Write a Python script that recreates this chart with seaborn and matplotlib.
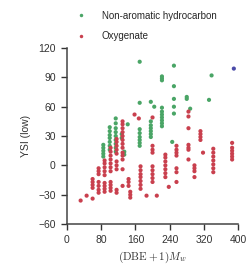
import numpy as np
import pandas as pd
import seaborn as sns
from matplotlib import pyplot as plt

# (DBE + 1) * Mw columns and YSI values
hc_x = [85] * 5 + [100] * 7 + [114] * 9 + [128] * 2 + [134] * 2 + [142] \
    + [170] * 8 + [196] * 7 + [204] + [222] * 10 + [246] + [250] * 5 \
    + [280] * 2 + [288] + [332] + [338]
hc_y = [9, 12, 15, 18, 21,
        16, 20, 24, 28, 31, 35, 39,
        14, 18, 22, 26, 30, 34, 38, 43, 48,
        28, 32,
        11, 14,
        42,
        20, 23, 26, 29, 33, 37, 64, 106,
        29, 32, 35, 38, 41, 45, 65,
        60,
        40, 43, 46, 49, 52, 55, 59, 87, 89, 91,
        24,
        53, 60, 68, 81, 102,
        68, 70,
        58,
        67,
        92]

ox_x = [32, 46] + [60] * 5 + [74] * 7 + [88] * 9 + [102] * 11 + [116] * 10 \
    + [130] * 13 + [144] * 3 + [148] * 3 + [158] + [168] + [172] * 7 + [186] \
    + [200] * 9 + [210] + [230] * 7 + [238] + [256] * 7 + [284] * 7 \
    + [298] * 4 + [312] * 4 + [318] + [342] * 7 + [386] * 6
ox_y = [-36, -31,
        -34, -23, -20, -17, -14,
        -28, -25, -21, -17, -9, -6, -3,
        -27, -24, -21, -18, -10, -6, -2, 2, 5,
        -26, -23, -20, -17, -6, -2, 2, 6, 10, 14, 18,
        -28, -25, -4, 0, 4, 12, 16, 20, 24, 27,
        -21, -4, 6, 10, 13, 18, 22, 26, 30, 34, 38, 42, 45,
        -21, -17, -14,
        -33, -30, -27,
        52,
        48,
        -24, -20, -16, -12, -9, -5, -1,
        -31,
        49, -17, -13, -9, -5, -1, 13, 16, 20,
        -31,
        -12, -8, -4, 0, 4, 8, 11,
        -22,
        -17, -7, -3, 10, 13, 16, 20,
        55, 50, 38, 21, 18, 16, 6,
        -12, -6, -3, 0,
        35, 32, 29, 26,
        13,
        -7, -3, 1, 5, 9, 13, 17,
        6, 9, 12, 15, 18, 23]

ar_x = [390]
ar_y = [99]

groups = ["Non-aromatic hydrocarbon", "Oxygenate", "Aromatic"]
palette = {"Non-aromatic hydrocarbon": "#4aa566",
           "Oxygenate": "#c9404e",
           "Aromatic": "#4a4aa8"}

df = pd.DataFrame({
    "x": hc_x + ox_x + ar_x,
    "ysi": hc_y + ox_y + ar_y,
    "group": [groups[0]] * len(hc_x) + [groups[1]] * len(ox_x) + [groups[2]] * len(ar_x),
})

sns.set_style("ticks")
plt.rcParams["font.family"] = ["Liberation Sans", "DejaVu Sans"]
plt.rcParams["mathtext.fontset"] = "cm"

fig = plt.figure(figsize=(2.47, 2.67), dpi=100)
ax = fig.add_axes([0.271, 0.161, 0.693, 0.659])

sns.scatterplot(data=df, x="x", y="ysi", hue="group", palette=palette,
                s=9, linewidth=0, ax=ax, legend=False)

# only two entries in the legend
handles = [plt.Line2D([], [], ls="", marker="o", ms=2.5, mew=0, color=palette[g]) for g in groups[:2]]
ax.legend(handles, groups[:2], loc="lower left", bbox_to_anchor=(0.04, 1.04),
          frameon=False, fontsize=7, labelspacing=1.05, handletextpad=1.4,
          borderaxespad=0, borderpad=0, handlelength=1.5)

ax.set_xlim(0, 400)
ax.set_ylim(-60, 120)
ax.set_xticks(np.arange(0, 401, 80))
ax.set_yticks(np.arange(-60, 121, 30))
ax.tick_params(labelsize=7.5, colors="#333333", length=4, width=1, pad=4)
for side in ["left", "bottom"]:
    ax.spines[side].set_color("#444444")
    ax.spines[side].set_linewidth(1.1)
sns.despine(ax=ax)

ax.set_xlabel(r"$(\mathrm{DBE}+1)M_w$", fontsize=8, color="#333333", labelpad=3)
ax.set_ylabel("YSI (low)", fontsize=7.5, color="#333333", labelpad=5)

fig.savefig("out.png", dpi=100)
